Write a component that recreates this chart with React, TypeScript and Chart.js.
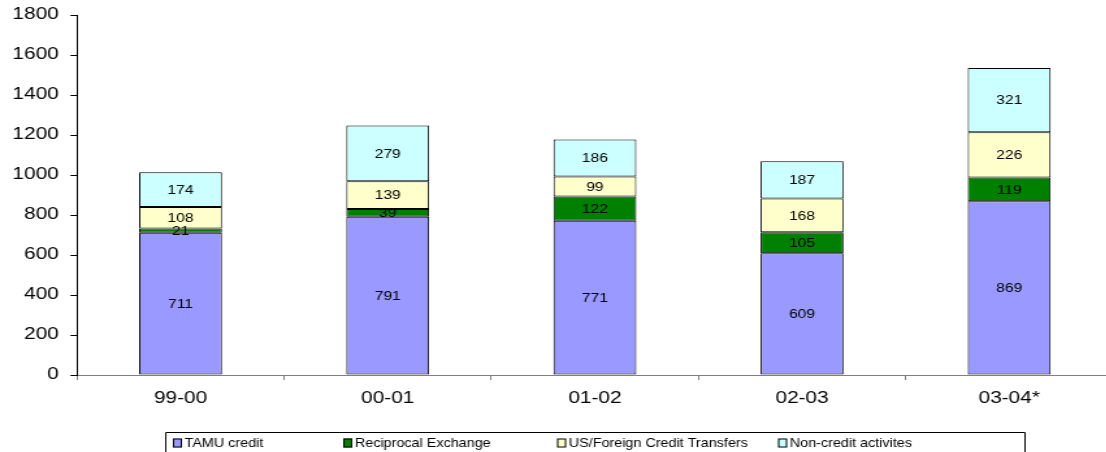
import React, { useEffect, useRef } from "react";
import { Chart, registerables } from "chart.js";

Chart.register(...registerables);

const categories = ["99-00", "00-01", "01-02", "02-03", "03-04*"];
const tamuCredit = [711, 791, 771, 609, 869];
const reciprocalExchange = [21, 39, 122, 105, 119];
const usForeignTransfers = [108, 139, 99, 168, 226];
const nonCredit = [174, 279, 186, 187, 321];
const seriesNames = ["TAMU credit", "Reciprocal Exchange", "US/Foreign Credit Transfers", "Non-credit activites"];
const seriesColors = ["#9999FF", "#008000", "#FFFFCC", "#CCFFFF"];
const yTicks = [0, 200, 400, 600, 800, 1000, 1200, 1400, 1600, 1800];

const SX = 1.3; // horizontal stretch of the original picture
const CANVAS_W = 856;
const CANVAS_H = 452;
const FONT = "'Liberation Sans', Arial, sans-serif";

// legend layout (logical px, before horizontal stretch)
const legendBox = { left: 127, right: 788, top: 432 };
const legendItemX = [133, 264, 428.5, 598.5];

const dataLabelPlugin = {
  id: "dataLabels",
  afterDatasetsDraw(chart: any) {
    const ctx = chart.ctx;
    ctx.save();
    ctx.font = `12px ${FONT}`;
    ctx.fillStyle = "#000";
    ctx.textAlign = "center";
    ctx.textBaseline = "middle";
    chart.data.datasets.forEach((ds: any, di: number) => {
      const meta = chart.getDatasetMeta(di);
      meta.data.forEach((el: any, i: number) => {
        const p = el.getProps(["x", "y", "base"], true);
        ctx.fillText(String(ds.data[i]), p.x, (p.y + p.base) / 2 + 1);
      });
    });
    ctx.restore();
  },
};

const legendPlugin = {
  id: "boxLegend",
  afterDraw(chart: any) {
    const ctx = chart.ctx;
    ctx.save();
    ctx.strokeStyle = "#000";
    ctx.lineWidth = 1;
    ctx.beginPath();
    ctx.rect(legendBox.left + 0.5, legendBox.top + 0.5, legendBox.right - legendBox.left, 40);
    ctx.stroke();
    ctx.textBaseline = "middle";
    ctx.textAlign = "left";
    const cy = legendBox.top + 11;
    chart.data.datasets.forEach((ds: any, i: number) => {
      const x = legendItemX[i];
      ctx.fillStyle = ds.backgroundColor;
      ctx.fillRect(x, cy - 4.5, 7, 9);
      ctx.strokeStyle = "#000";
      ctx.strokeRect(x + 0.5, cy - 4, 6, 8);
      ctx.fillStyle = "#000";
      ctx.save();
      ctx.translate(x + 9, cy + 0.5);
      ctx.scale(0.85, 1);
      ctx.font = `13px ${FONT}`;
      ctx.fillText(ds.label, 0, 0);
      ctx.restore();
    });
    ctx.restore();
  },
};

export default function App() {
  const canvasRef = useRef<HTMLCanvasElement | null>(null);

  useEffect(() => {
    const prevMargin = document.body.style.margin;
    document.body.style.margin = "0";
    const seriesValues = [tamuCredit, reciprocalExchange, usForeignTransfers, nonCredit];
    const chart = new Chart(canvasRef.current!, {
      type: "bar",
      data: {
        labels: categories,
        datasets: seriesValues.map((vals, i) => ({
          label: seriesNames[i],
          data: vals,
          backgroundColor: seriesColors[i],
          borderColor: "#000",
          borderWidth: 1,
          borderSkipped: false,
          barPercentage: 0.4,
          categoryPercentage: 1,
        })),
      },
      options: {
        responsive: false,
        animation: false,
        devicePixelRatio: 1,
        layout: { padding: { top: 15, bottom: 37, left: 0, right: 0 } },
        plugins: { legend: { display: false }, tooltip: { enabled: false } },
        scales: {
          x: {
            stacked: true,
            offset: true,
            grid: {
              offset: true,
              drawOnChartArea: false,
              drawTicks: true,
              tickLength: 5,
              color: "#808080",
            },
            border: { color: "#808080", width: 1 },
            ticks: { color: "#000", font: { family: FONT, size: 16 }, padding: 9 },
            afterFit(scale: any) {
              scale.height = 40;
              scale.paddingLeft = 0;
              scale.paddingRight = 0;
            },
          },
          y: {
            stacked: true,
            min: 0,
            max: 1800,
            afterBuildTicks(scale: any) {
              scale.ticks = yTicks.map((v) => ({ value: v }));
            },
            grid: {
              drawOnChartArea: false,
              drawTicks: true,
              tickLength: 5,
              color: "#000",
            },
            border: { color: "#000", width: 1 },
            ticks: {
              color: "#000",
              font: { family: FONT, size: 16 },
              padding: 9,
              callback: (v: any) => String(v),
            },
            afterFit(scale: any) {
              scale.width = 59.2;
              scale.paddingTop = 0;
              scale.paddingBottom = 0;
            },
          },
        },
      },
      plugins: [dataLabelPlugin, legendPlugin],
    } as any);
    return () => {
      chart.destroy();
      document.body.style.margin = prevMargin;
    };
  }, []);

  return (
    <div style={{ position: "fixed", left: 0, top: 0, width: 1106, height: 452, overflow: "hidden", background: "#fff" }}>
      <canvas
        ref={canvasRef}
        width={CANVAS_W}
        height={CANVAS_H}
        style={{ width: CANVAS_W, height: CANVAS_H, transform: `scaleX(${SX})`, transformOrigin: "0 0", display: "block" }}
      />
    </div>
  );
}
